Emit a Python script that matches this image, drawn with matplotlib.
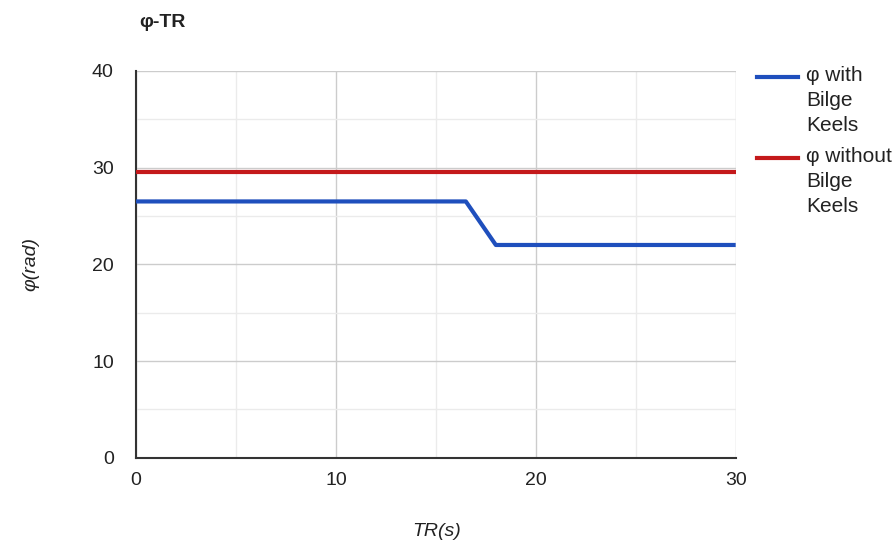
import matplotlib.pyplot as plt
from matplotlib.lines import Line2D

plt.rcParams['font.family'] = ['Liberation Sans', 'DejaVu Sans']

# data
tr_with = [0, 16.5, 18, 30]
phi_with = [26.5, 26.5, 22, 22]
tr_without = [0, 30]
phi_without = [29.5, 29.5]
labels = ['φ with\nBilge\nKeels', 'φ without\nBilge\nKeels']
colors = ['#1f4fbd', '#c4191b']

fig = plt.figure(figsize=(8.95, 5.45), dpi=100)
ax = fig.add_axes([0.152, 0.160, 0.670, 0.710])

ax.plot(tr_with, phi_with, color=colors[0], lw=3, solid_capstyle='butt', zorder=3)
ax.plot(tr_without, phi_without, color=colors[1], lw=3, solid_capstyle='butt', zorder=3)

ax.set_xlim(0, 30)
ax.set_ylim(0, 40)
ax.set_xticks([0, 10, 20, 30])
ax.set_yticks([0, 10, 20, 30, 40])
ax.set_xticks([5, 15, 25], minor=True)
ax.set_yticks([5, 15, 25, 35], minor=True)
ax.grid(True, which='major', color='#cccccc', lw=1)
ax.grid(True, which='minor', color='#ebebeb', lw=1)
ax.tick_params(which='both', length=0, labelsize=14, colors='#222222')
ax.tick_params(axis='x', pad=10)
ax.tick_params(axis='y', pad=16)

for s in ['top', 'right']:
    ax.spines[s].set_visible(False)
for s in ['left', 'bottom']:
    ax.spines[s].set_color('#333333')
    ax.spines[s].set_linewidth(1.5)

# axis titles and chart title placed on the figure
fig.text(0.488, 0.024, 'TR(s)', fontsize=14, style='italic', color='#222222',
         ha='center', va='center')
fig.text(0.034, 0.515, 'φ(rad)', fontsize=14, style='italic', color='#222222',
         ha='center', va='center', rotation=90)
fig.text(0.156, 0.958, 'φ-TR', fontsize=14, fontweight='bold', color='#222222', va='center')

# legend drawn by hand so the line sits at the first text row
for i, (lab, c) in enumerate(zip(labels, colors)):
    y = 0.858 - i * 0.148
    fig.add_artist(Line2D([0.846, 0.892], [y, y], color=c, lw=3))
    fig.text(0.901, y + 0.021, lab, fontsize=15, color='#222222', va='top',
             linespacing=1.4)

fig.savefig('out.png', dpi=100)
